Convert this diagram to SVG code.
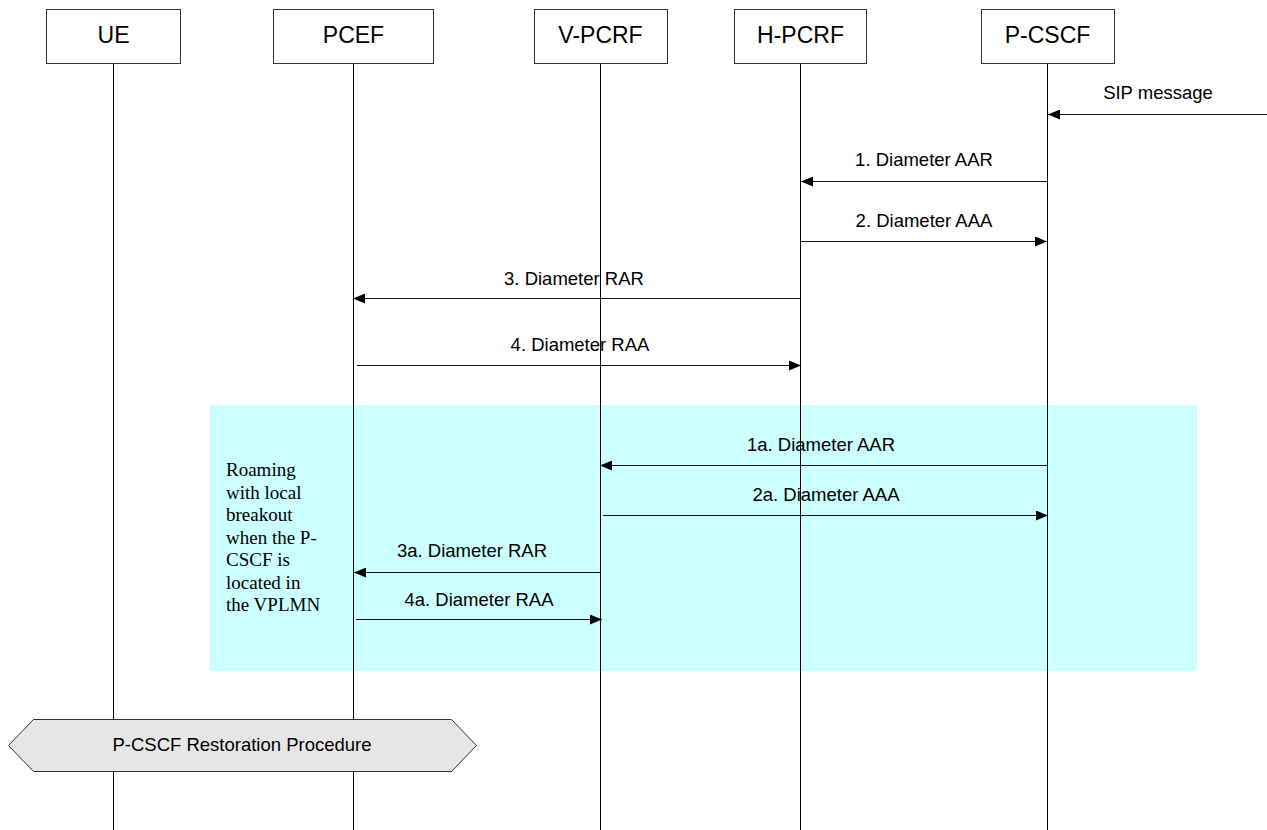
<svg xmlns="http://www.w3.org/2000/svg" width="1267" height="830" viewBox="0 0 1267 830">
<style>
.box{fill:#fff;stroke:#333;stroke-width:1}
.life{stroke:#000;stroke-width:1;fill:none}
.msg{stroke:#111;stroke-width:1;fill:none;marker-end:url(#ah)}
.hdr{font-family:"Liberation Sans",Arial,sans-serif;font-size:23px;fill:#000;text-anchor:middle}
.lbl{font-family:"Liberation Sans",Arial,sans-serif;font-size:18.5px;fill:#000;text-anchor:middle}
.note{font-family:"Liberation Serif","Times New Roman",serif;font-size:19px;fill:#000}
</style>
<defs>
<marker id="ah" markerWidth="12" markerHeight="10" refX="12" refY="5" orient="auto" markerUnits="userSpaceOnUse">
<path d="M0,0 L12,5 L0,10 z" fill="#000"/>
</marker>
</defs>
<rect x="0" y="0" width="1267" height="830" fill="#fff"/>
<rect id="roaming-area" x="210" y="405" width="987" height="266" fill="#CCFFFF"/>
<g id="lifelines">
<line class="life" x1="113.5" y1="63" x2="113.5" y2="830"/>
<line class="life" x1="353.5" y1="63" x2="353.5" y2="830"/>
<line class="life" x1="600.5" y1="63" x2="600.5" y2="830"/>
<line class="life" x1="800.5" y1="63" x2="800.5" y2="830"/>
<line class="life" x1="1047.5" y1="63" x2="1047.5" y2="830"/>
</g>
<g id="UE"><rect class="box" x="46.5" y="9.5" width="134" height="54"/><text class="hdr" x="113.5" y="43">UE</text></g>
<g id="PCEF"><rect class="box" x="273.5" y="9.5" width="160" height="54"/><text class="hdr" x="353.5" y="43">PCEF</text></g>
<g id="V-PCRF"><rect class="box" x="534.5" y="9.5" width="133" height="54"/><text class="hdr" x="600.5" y="43">V-PCRF</text></g>
<g id="H-PCRF"><rect class="box" x="734.5" y="9.5" width="132" height="54"/><text class="hdr" x="800.5" y="43">H-PCRF</text></g>
<g id="P-CSCF"><rect class="box" x="981.5" y="9.5" width="133" height="54"/><text class="hdr" x="1047.5" y="43">P-CSCF</text></g>
<g id="connectors">
<line class="msg" x1="1267" y1="114.5" x2="1048" y2="114.5"/>
<line class="msg" x1="1047" y1="181.5" x2="801" y2="181.5"/>
<line class="msg" x1="801" y1="241.5" x2="1047" y2="241.5"/>
<line class="msg" x1="800" y1="298.5" x2="353" y2="298.5"/>
<line class="msg" x1="357" y1="365.5" x2="801" y2="365.5"/>
<line class="msg" x1="1047" y1="465.5" x2="600" y2="465.5"/>
<line class="msg" x1="603" y1="515.5" x2="1048" y2="515.5"/>
<line class="msg" x1="600" y1="572.5" x2="354" y2="572.5"/>
<line class="msg" x1="356" y1="619.5" x2="602" y2="619.5"/>
</g>
<g id="labels">
<text class="lbl" x="1158" y="99">SIP message</text>
<text class="lbl" x="924" y="166">1. Diameter AAR</text>
<text class="lbl" x="924" y="227">2. Diameter AAA</text>
<text class="lbl" x="574" y="285">3. Diameter RAR</text>
<text class="lbl" x="580" y="351">4. Diameter RAA</text>
<text class="lbl" x="821" y="451">1a. Diameter AAR</text>
<text class="lbl" x="826" y="501">2a. Diameter AAA</text>
<text class="lbl" x="472" y="557">3a. Diameter RAR</text>
<text class="lbl" x="479" y="606">4a. Diameter RAA</text>
</g>
<g id="roaming-note">
<text class="note" x="226" y="476">Roaming</text>
<text class="note" x="226" y="498.5">with local</text>
<text class="note" x="226" y="521">breakout</text>
<text class="note" x="226" y="543.5">when the P-</text>
<text class="note" x="226" y="566">CSCF is</text>
<text class="note" x="226" y="588.5">located in</text>
<text class="note" x="226" y="611">the VPLMN</text>
</g>
<g id="restoration">
<polygon points="8.5,745.5 33.5,719.5 451.5,719.5 476.5,745.5 451.5,771.5 33.5,771.5" fill="#E6E6E6" stroke="#333" stroke-width="1"/>
<text class="lbl" x="242" y="751">P-CSCF Restoration Procedure</text>
</g>
</svg>
